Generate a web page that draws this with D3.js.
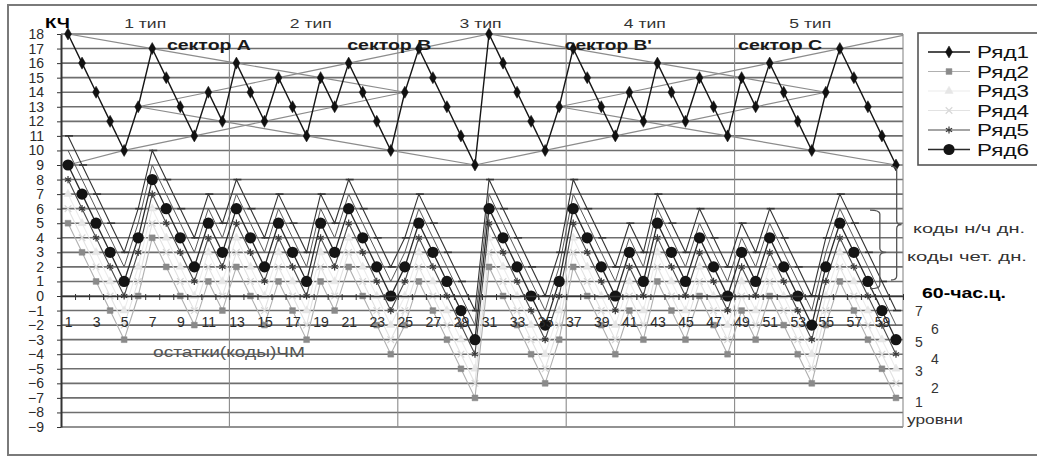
<!DOCTYPE html>
<html>
<head>
<meta charset="utf-8">
<script src="https://cdn.jsdelivr.net/npm/d3@7"></script>
<style>
  body { margin: 0; background: #fff; }
  svg text { font-family: Arial, "Liberation Sans", sans-serif; }
</style>
</head>
<body>
<svg id="chart" width="1037" height="457"></svg>
<script>
// categories and tick labels
const categories = d3.range(1, 61);
const xTickLabels = [1, 3, 5, 7, 9, 11, 13, 15, 17, 19, 21, 23, 25, 27, 29, 31, 33, 35, 37, 39, 41, 43, 45, 47, 49, 51, 53, 55, 57, 59];
const yTickLabels = [-9, -8, -7, -6, -5, -4, -3, -2, -1, 0, 1, 2, 3, 4, 5, 6, 7, 8, 9, 10, 11, 12, 13, 14, 15, 16, 17, 18];
const typeLabels = ["1 тип", "2 тип", "3 тип", "4 тип", "5 тип"];
const typeLabelCats = [6.5, 18.3, 30.4, 42.1, 53.9];
const sectorLabels = ["сектор А", "сектор В", "сектор В'", "сектор С"];
const sectorLabelCats = [8.05, 20.9, 36.4, 48.75];
const typeBorders = [12.5, 24.5, 36.5, 48.5];
const levelLabels = ["7", "6", "5", "4", "3", "2", "1"];
const levelValues = [-1.05, -2.25, -3.15, -4.3, -5.15, -6.3, -7.25];
const seriesNames = ["Ряд1", "Ряд2", "Ряд3", "Ряд4", "Ряд5", "Ряд6"];

// series values (КЧ and the codes)
const ryad1 = [18, 16, 14, 12, 10, 13, 17, 15, 13, 11, 14, 12, 16, 14, 12, 15, 13, 11, 15, 13, 16, 14, 12, 10, 14, 17, 15, 13, 11, 9,
  18, 16, 14, 12, 10, 13, 17, 15, 13, 11, 14, 12, 16, 14, 12, 15, 13, 11, 15, 13, 16, 14, 12, 10, 14, 17, 15, 13, 11, 9];
const ryad2 = [5, 3, 1, -1, -3, 0, 4, 2, 0, -2, 1, -1, 2, 0, -2, 1, -1, -3, 1, -1, 2, 0, -2, -4, -2, 1, -1, -3, -5, -7,
  2, 0, -2, -4, -6, -3, 2, 0, -2, -4, -1, -3, 1, -1, -3, 0, -2, -4, -1, -3, 0, -2, -4, -6, -2, 1, -1, -3, -5, -7];
const ryad3 = [7, 5, 3, 1, -1, 2, 6, 4, 2, 0, 3, 1, 4, 2, 0, 3, 1, -1, 3, 1, 4, 2, 0, -2, 0, 3, 1, -1, -3, -5,
  4, 2, 0, -2, -4, -1, 4, 2, 0, -2, 1, -1, 3, 1, -1, 2, 0, -2, 1, -1, 2, 0, -2, -4, 0, 3, 1, -1, -3, -5];
const ryad4 = [6, 4, 2, 0, -2, 1, 5, 3, 1, -1, 2, 0, 3, 1, -1, 2, 0, -2, 2, 0, 3, 1, -1, -3, -1, 2, 0, -2, -4, -6,
  3, 1, -1, -3, -5, -2, 3, 1, -1, -3, 0, -2, 2, 0, -2, 1, -1, -3, 0, -2, 1, -1, -3, -5, -1, 2, 0, -2, -4, -6];
const ryad5 = [8, 6, 4, 2, 0, 3, 7, 5, 3, 1, 4, 2, 5, 3, 1, 4, 2, 0, 4, 2, 5, 3, 1, -1, 1, 4, 2, 0, -2, -4,
  5, 3, 1, -1, -3, 0, 5, 3, 1, -1, 2, 0, 4, 2, 0, 3, 1, -1, 2, 0, 3, 1, -1, -3, 1, 4, 2, 0, -2, -4];
const ryad6 = [9, 7, 5, 3, 1, 4, 8, 6, 4, 2, 5, 3, 6, 4, 2, 5, 3, 1, 5, 3, 6, 4, 2, 0, 2, 5, 3, 1, -1, -3,
  6, 4, 2, 0, -2, 1, 6, 4, 2, 0, 3, 1, 5, 3, 1, 4, 2, 0, 3, 1, 4, 2, 0, -2, 2, 5, 3, 1, -1, -3];
// two upper code levels without legend entries
const level6 = [10, 8, 6, 4, 2, 5, 9, 7, 5, 3, 6, 4, 7, 5, 3, 6, 4, 2, 6, 4, 7, 5, 3, 1, 3, 6, 4, 2, 0, -2,
  7, 5, 3, 1, -1, 2, 7, 5, 3, 1, 4, 2, 6, 4, 2, 5, 3, 1, 4, 2, 5, 3, 1, -1, 3, 6, 4, 2, 0, -2];
const level7 = [11, 9, 7, 5, 3, 6, 10, 8, 6, 4, 7, 5, 8, 6, 4, 7, 5, 3, 7, 5, 8, 6, 4, 2, 4, 7, 5, 3, 1, -1,
  8, 6, 4, 2, 0, 3, 8, 6, 4, 2, 5, 3, 7, 5, 3, 6, 4, 2, 5, 3, 6, 4, 2, 0, 4, 7, 5, 3, 1, -1];

// gray guide lines through the КЧ points: [category, value]
const guideDownA = [[1, 18], [7, 17], [13, 16], [19, 15], [25, 14]];
const guideDownA2 = [[6, 13], [12, 12], [18, 11], [24, 10], [30, 9]];
const guideUpA = [[6, 13], [11, 14], [16, 15], [21, 16], [26, 17], [31, 18]];
const guideUpA2 = [[1, 9], [5, 10], [10, 11], [15, 12], [20, 13], [25, 14]];
const guideDownB = [[31, 18], [37, 17], [43, 16], [49, 15], [55, 14]];
const guideDownB2 = [[36, 13], [42, 12], [48, 11], [54, 10], [60, 9]];
const guideUpB = [[36, 13], [41, 14], [46, 15], [51, 16], [56, 17], [61, 18]];
const guideUpB2 = [[30, 9], [35, 10], [40, 11], [45, 12], [50, 13], [55, 14]];

// set svg and plot area
const svg = d3.select("#chart");
const plotLeft = 61, plotRight = 903, plotTop = 34, plotBottom = 427;

const x = d3.scaleLinear().domain([0.5, 60.5]).range([plotLeft, plotRight]);
const y = d3.scaleLinear().domain([-9, 18]).range([plotBottom, plotTop]);

// outer chart border (right side is cut off in the picture)
svg.append("rect")
  .attr("x", 8).attr("y", 5)
  .attr("width", 1060).attr("height", 450)
  .attr("fill", "#fff")
  .attr("stroke", "#7a7a7a")
  .attr("stroke-width", 2);

svg.append("defs").append("clipPath").attr("id", "plot-clip")
  .append("rect")
  .attr("x", plotLeft).attr("y", plotTop)
  .attr("width", plotRight - plotLeft).attr("height", plotBottom - plotTop);

const plot = svg.append("g");

// horizontal gridlines
plot.append("g")
  .selectAll("line")
  .data(yTickLabels)
  .join("line")
  .attr("x1", plotLeft).attr("x2", plotRight)
  .attr("y1", (d) => y(d)).attr("y2", (d) => y(d))
  .attr("stroke", "#6e6e6e")
  .attr("stroke-width", 1.6);

// type separators and right edge
plot.append("g")
  .selectAll("line")
  .data(typeBorders.concat([60.5]))
  .join("line")
  .attr("x1", (d) => x(d)).attr("x2", (d) => x(d))
  .attr("y1", plotTop).attr("y2", plotBottom)
  .attr("stroke", "#8a8a8a")
  .attr("stroke-width", 1.1);

// guide lines
const guideLine = d3.line().x((d) => x(d[0])).y((d) => y(d[1]));
plot.append("g")
  .attr("clip-path", "url(#plot-clip)")
  .selectAll("path")
  .data([guideDownA, guideDownA2, guideUpA, guideUpA2, guideDownB, guideDownB2, guideUpB, guideUpB2])
  .join("path")
  .attr("d", guideLine)
  .attr("fill", "none")
  .attr("stroke", "#8c8c8c")
  .attr("stroke-width", 1.2);

// series drawing
const seriesLine = d3.line().x((d, i) => x(categories[i])).y((d) => y(d));

function drawSeries(values, style) {
  const g = plot.append("g");
  g.append("path")
    .datum(values)
    .attr("d", seriesLine)
    .attr("fill", "none")
    .attr("stroke", style.stroke)
    .attr("stroke-width", style.width);
  drawMarkers(g, values.map((v, i) => [x(categories[i]), y(v)]), style);
}

function drawMarkers(g, points, style) {
  const m = g.selectAll(".m").data(points).join("g")
    .attr("class", "m")
    .attr("transform", (d) => `translate(${d[0]},${d[1]})`);
  if (style.marker === "circle") {
    m.append("circle").attr("r", style.size).attr("fill", style.fill);
  } else if (style.marker === "dash") {
    m.append("line").attr("x1", -3).attr("x2", 5)
      .attr("stroke", style.fill).attr("stroke-width", 1.6);
  } else if (style.marker) {
    const filled = ["diamond", "square", "triangle"].includes(style.marker);
    const type = {
      diamond: d3.symbolDiamond, square: d3.symbolSquare, triangle: d3.symbolTriangle,
      times: d3.symbolTimes, asterisk: d3.symbolAsterisk
    }[style.marker];
    m.append("path")
      .attr("d", d3.symbol().type(type).size(style.size))
      .attr("fill", filled ? style.fill : "none")
      .attr("stroke", style.fill)
      .attr("stroke-width", filled ? 0.5 : 1.2);
  }
}

const styles = {
  ryad1: { stroke: "#151515", width: 1.4, marker: "diamond", fill: "#111", size: 42 },
  ryad2: { stroke: "#b0b0b0", width: 1.1, marker: "square", fill: "#8a8a8a", size: 34 },
  ryad3: { stroke: "#ececec", width: 1.1, marker: "triangle", fill: "#e6e6e6", size: 30 },
  ryad4: { stroke: "#e2e2e2", width: 1.1, marker: "times", fill: "#d8d8d8", size: 30 },
  ryad5: { stroke: "#4a4a4a", width: 1.1, marker: "asterisk", fill: "#3a3a3a", size: 36 },
  ryad6: { stroke: "#2a2a2a", width: 1.3, marker: "circle", fill: "#141414", size: 5.6 },
  level6: { stroke: "#5a5a5a", width: 1, marker: null },
  level7: { stroke: "#333", width: 1.1, marker: "dash", fill: "#333" }
};

drawSeries(ryad3, styles.ryad3);
drawSeries(ryad4, styles.ryad4);
drawSeries(ryad2, styles.ryad2);
drawSeries(level6, styles.level6);
drawSeries(level7, styles.level7);
drawSeries(ryad5, styles.ryad5);
drawSeries(ryad6, styles.ryad6);
drawSeries(ryad1, styles.ryad1);

// y axis
const yAxisGroup = svg.append("g")
  .attr("transform", `translate(${plotLeft},0)`)
  .call(d3.axisLeft(y).tickValues(yTickLabels).tickSize(4).tickPadding(13).tickSizeOuter(0));
yAxisGroup.select(".domain").attr("stroke", "#333").attr("stroke-width", 2);
yAxisGroup.selectAll(".tick line").attr("stroke", "#333");
yAxisGroup.selectAll("text").attr("font-size", 14).attr("fill", "#2a2a2a");

// x axis on the zero line: tick marks at category borders, labels for odd categories
const xTicksGroup = svg.append("g")
  .attr("transform", `translate(0,${y(0)})`)
  .call(d3.axisBottom(x).tickValues(d3.range(0.5, 61, 1)).tickSize(4).tickFormat("").tickSizeOuter(0));
xTicksGroup.select(".domain").attr("stroke", "#333").attr("stroke-width", 1.6);
xTicksGroup.selectAll(".tick line").attr("stroke", "#333").attr("y1", -2);

const xLabelGroup = svg.append("g")
  .attr("transform", `translate(0,${y(0)})`)
  .call(d3.axisBottom(x).tickValues(xTickLabels).tickSize(0).tickPadding(21));
xLabelGroup.select(".domain").remove();
xLabelGroup.selectAll("text").attr("font-size", 14).attr("fill", "#2a2a2a");

// titles above the plot
svg.append("text")
  .attr("x", 45).attr("y", 28)
  .attr("font-size", 14).attr("font-weight", "bold")
  .attr("textLength", 25).attr("lengthAdjust", "spacingAndGlyphs")
  .text("КЧ");

svg.append("g")
  .selectAll("text")
  .data(typeLabels)
  .join("text")
  .attr("x", (d, i) => x(typeLabelCats[i]) - 21)
  .attr("y", 28)
  .attr("font-size", 13)
  .attr("fill", "#333")
  .attr("textLength", 42).attr("lengthAdjust", "spacingAndGlyphs")
  .text((d) => d);

svg.append("g")
  .selectAll("text")
  .data(sectorLabels)
  .join("text")
  .attr("x", (d, i) => x(sectorLabelCats[i]))
  .attr("y", 50)
  .attr("font-size", 15).attr("font-weight", "bold")
  .attr("fill", "#1a1a1a")
  .attr("textLength", (d) => (d.length > 8 ? 87 : 84)).attr("lengthAdjust", "spacingAndGlyphs")
  .text((d) => d);

svg.append("text")
  .attr("x", 153).attr("y", 357)
  .attr("font-size", 14).attr("fill", "#555")
  .attr("textLength", 152).attr("lengthAdjust", "spacingAndGlyphs")
  .text("остатки(коды)ЧМ");

// braces and notes on the right
const braces = [
  { c0: 59.65, c1: 60.05, c2: 60.4, top: 8.9, mid: 4.9, bot: 1.1 },
  { c0: 58.15, c1: 58.85, c2: 59.3, top: 5.9, mid: 3.0, bot: 0.5 }
];
const bracePath = (b) => {
  const p = d3.path();
  const x0 = x(b.c0), x1 = x(b.c1), x2 = x(b.c2);
  const yt = y(b.top), ym = y(b.mid), yb = y(b.bot);
  p.moveTo(x0, yt);
  p.quadraticCurveTo(x1, yt, x1, yt + 4);
  p.lineTo(x1, ym - 4);
  p.quadraticCurveTo(x1, ym, x2, ym);
  p.quadraticCurveTo(x1, ym, x1, ym + 4);
  p.lineTo(x1, yb - 4);
  p.quadraticCurveTo(x1, yb, x0, yb);
  return p.toString();
};
svg.append("g")
  .selectAll("path")
  .data(braces)
  .join("path")
  .attr("d", bracePath)
  .attr("fill", "none")
  .attr("stroke", "#555")
  .attr("stroke-width", 1.3);

svg.append("text")
  .attr("x", 913).attr("y", 233)
  .attr("font-size", 13).attr("fill", "#333")
  .attr("textLength", 112).attr("lengthAdjust", "spacingAndGlyphs")
  .text("коды н/ч дн.");
svg.append("text")
  .attr("x", 907).attr("y", 261)
  .attr("font-size", 13).attr("fill", "#333")
  .attr("textLength", 120).attr("lengthAdjust", "spacingAndGlyphs")
  .text("коды чет. дн.");
svg.append("text")
  .attr("x", 922).attr("y", 298)
  .attr("font-size", 14).attr("font-weight", "bold")
  .attr("textLength", 84).attr("lengthAdjust", "spacingAndGlyphs")
  .text("60-час.ц.");

svg.append("g")
  .selectAll("text")
  .data(levelLabels)
  .join("text")
  .attr("x", (d, i) => (i % 2 === 0 ? 919 : 935))
  .attr("y", (d, i) => y(levelValues[i]) + 5)
  .attr("text-anchor", "middle")
  .attr("font-size", 14).attr("fill", "#333")
  .text((d) => d);

svg.append("text")
  .attr("x", 907).attr("y", 424)
  .attr("font-size", 13).attr("fill", "#333")
  .attr("textLength", 56).attr("lengthAdjust", "spacingAndGlyphs")
  .text("уровни");

// legend
const legend = svg.append("g").attr("transform", "translate(918,33)");
legend.append("rect")
  .attr("width", 140).attr("height", 132)
  .attr("fill", "#fff")
  .attr("stroke", "#555")
  .attr("stroke-width", 1.6);

const legendStyles = [styles.ryad1, styles.ryad2, styles.ryad3, styles.ryad4, styles.ryad5, styles.ryad6];
const legendRows = legend.selectAll(".row")
  .data(seriesNames)
  .join("g")
  .attr("class", "row")
  .attr("transform", (d, i) => `translate(0,${19 + i * 19.5})`);

legendRows.each(function (d, i) {
  const row = d3.select(this);
  const st = legendStyles[i];
  row.append("line")
    .attr("x1", 10).attr("x2", 52)
    .attr("stroke", st.stroke)
    .attr("stroke-width", st.width);
  drawMarkers(row, [[31, 0]], st);
  row.append("text")
    .attr("x", 59).attr("y", 6)
    .attr("font-size", 16).attr("fill", "#111")
    .attr("textLength", 52).attr("lengthAdjust", "spacingAndGlyphs")
    .text(d);
});
</script>
</body>
</html>
